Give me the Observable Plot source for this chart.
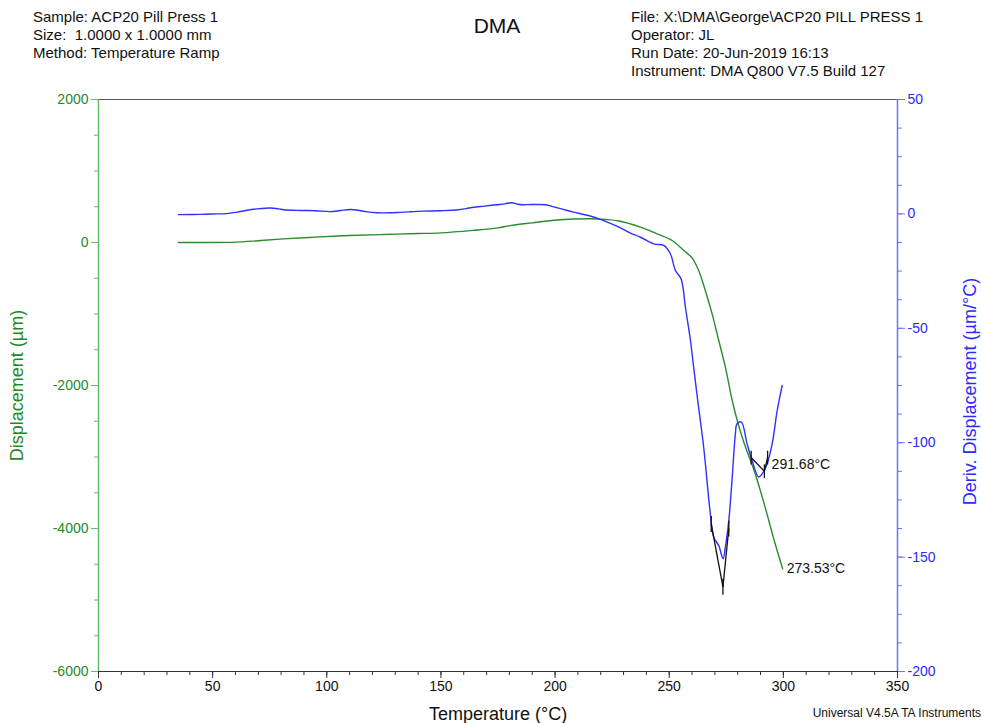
<!DOCTYPE html>
<html>
<head>
<meta charset="utf-8">
<script src="https://cdn.jsdelivr.net/npm/d3@7"></script>
<script src="https://cdn.jsdelivr.net/npm/@observablehq/plot@0.6"></script>
<style>
  html, body { margin: 0; padding: 0; background: #fff; }
  #wrap { position: relative; width: 982px; height: 723px; font-family: 'Liberation Sans', Arial, sans-serif; color: #111; }
  #wrap svg { position: absolute; left: 0; top: 0; }
  .hdr { position: absolute; font-size: 15px; line-height: 18px; white-space: nowrap; }
</style>
</head>
<body>
<div id="wrap">
  <div id="chart"></div>
  <div class="hdr" style="left:33px; top:8px;">Sample: ACP20 Pill Press 1<br>Size:&nbsp; 1.0000 x 1.0000 mm<br>Method: Temperature Ramp</div>
  <div class="hdr" style="left:497px; top:14px; font-size:21px; line-height:24px; transform: translateX(-50%);">DMA</div>
  <div class="hdr" style="left:631px; top:8px;">File: X:\DMA\George\ACP20 PILL PRESS 1<br>Operator: JL<br>Run Date: 20-Jun-2019 16:13<br>Instrument: DMA Q800 V7.5 Build 127</div>
  <div class="hdr" style="right:1px; top:704px; font-size:12px;">Universal V4.5A TA Instruments</div>
</div>
<script>
// ---- Data ----
// Displacement (µm) vs temperature (°C)
const dispTemp = [35, 45, 60, 70, 81, 95, 110, 125, 140, 150, 164, 175, 181, 190, 201, 208, 215, 222, 228, 237.4, 244.7, 251.3, 256.4, 260, 262.9, 265.8, 268.8, 271.7, 274.6, 277.6, 279.8, 282.9, 287.2, 291.6, 296, 299.7];
const dispVal  = [0, 0, 5, 25, 50, 75, 98, 112, 125, 135, 170, 205, 240, 275, 315, 328, 333, 322, 300, 214, 121, 28, -112, -215, -392, -671, -998, -1371, -1744, -2210, -2490, -2816, -3189, -3655, -4168, -4565];

// Derivative of displacement (µm/°C) vs temperature (°C)
const derivTemp = [35, 45, 52, 56, 60.7, 65, 69.5, 73, 76.8, 79, 81.2, 88.5, 95, 101.6, 106, 110.4, 113, 117, 122, 130.7, 136, 142.4, 150, 157.6, 161, 164.4, 169, 174.4, 178, 181, 184.4, 190, 196, 199, 202.8, 208, 214.6, 221.3, 228, 233, 237.4, 243.2, 247.6, 250.5, 252.7, 255.2, 257.1, 259.3, 260.7, 262.5, 265.1, 268, 269.5, 271.7, 273.6, 274.6, 276.1, 277.5, 279, 279.7, 281.6, 284.1, 286.3, 289.2, 290.7, 292.6, 295.1, 297.3, 299.5];
const derivVal  = [-0.3, -0.2, 0, 0.1, 0.8, 1.6, 2.2, 2.5, 2.5, 2.2, 1.8, 1.5, 1.4, 1.0, 1.5, 1.9, 1.7, 1.0, 0.5, 0.6, 0.9, 1.2, 1.4, 1.8, 2.3, 2.9, 3.4, 4.0, 4.4, 4.9, 4.1, 4.1, 4.0, 3.2, 2.2, 0.8, -0.7, -2.9, -5.8, -8.4, -10.2, -13.1, -13.8, -17.4, -24.7, -28.4, -40.8, -55.3, -67, -81.6, -102, -131, -141.3, -145, -150.7, -145.6, -134, -116.5, -96, -91.7, -91, -100.5, -107.8, -115, -113.6, -110, -100.5, -86, -75];

// Peak construction lines (deriv axis): left point, vertex, right point
const peakNames   = ["273.53°C", "291.68°C"];
const peakLeftT   = [268.4, 285.9];
const peakLeftD   = [-135.5, -106.5];
const peakVertexT = [273.53, 291.68];
const peakVertexD = [-163, -112.5];
const peakRightT  = [276.1, 293.1];
const peakRightD  = [-137.5, -106.5];
const peakTickHalf = [3.5, 3];

// Axis ticks
const xMajor = [0, 50, 100, 150, 200, 250, 300, 350];
const yLeftMajor = [-6000, -4000, -2000, 0, 2000];
const yRightMajor = [-200, -150, -100, -50, 0, 50];

// ---- Build ----
const leftDomain = [-6000, 2000];
const rightDomain = [-200, 50];
const toLeft = d => leftDomain[0] + (d - rightDomain[0]) * (leftDomain[1] - leftDomain[0]) / (rightDomain[1] - rightDomain[0]);
const fromLeft = v => rightDomain[0] + (v - leftDomain[0]) * (rightDomain[1] - rightDomain[0]) / (leftDomain[1] - leftDomain[0]);

const disp = dispTemp.map((t, i) => ({t, v: dispVal[i]}));
const deriv = derivTemp.map((t, i) => ({t, v: toLeft(derivVal[i])}));

const segs = [];
peakNames.forEach((n, i) => {
  const h = peakTickHalf[i];
  segs.push({x1: peakLeftT[i], y1: toLeft(peakLeftD[i]), x2: peakVertexT[i], y2: toLeft(peakVertexD[i])});
  segs.push({x1: peakVertexT[i], y1: toLeft(peakVertexD[i]), x2: peakRightT[i], y2: toLeft(peakRightD[i])});
  segs.push({x1: peakLeftT[i], y1: toLeft(peakLeftD[i] + h), x2: peakLeftT[i], y2: toLeft(peakLeftD[i] - h)});
  segs.push({x1: peakRightT[i], y1: toLeft(peakRightD[i] + h), x2: peakRightT[i], y2: toLeft(peakRightD[i] - h)});
  segs.push({x1: peakVertexT[i], y1: toLeft(peakVertexD[i] + h), x2: peakVertexT[i], y2: toLeft(peakVertexD[i] - h)});
});

const labels = [
  {t: dispTemp[dispTemp.length - 1], v: dispVal[dispVal.length - 1], text: peakNames[0]},
  {t: peakRightT[1], v: toLeft(peakVertexD[1] + 3), text: peakNames[1]}
];

const green = "#2a8c2a";
const greenAxis = "#66bb66";
const greenText = "#1f8a1f";
const blue = "#3030ff";
const blueAxis = "#7070ff";
const blueText = "#2b2bff";
const font = "'Liberation Sans', Arial, sans-serif";

const chart = Plot.plot({
  width: 982,
  height: 723,
  marginTop: 99,
  marginBottom: 52,
  marginLeft: 98,
  marginRight: 85,
  style: {fontFamily: font, fontSize: "14px", background: "transparent", overflow: "visible"},
  x: {domain: [0, 350]},
  y: {domain: leftDomain},
  marks: [
    // frame lines
    Plot.ruleY([2000], {stroke: "#555", strokeWidth: 1}),
    Plot.ruleY([-6000], {stroke: "#333", strokeWidth: 1}),
    Plot.ruleX([0], {stroke: greenAxis, strokeWidth: 1.5}),
    Plot.ruleX([350], {stroke: blueAxis, strokeWidth: 1.5}),
    // bottom axis
    Plot.axisX({ticks: d3.range(0, 351, 10), tickSize: 4, tickFormat: () => "", label: null, stroke: "#333"}),
    Plot.axisX({ticks: xMajor, tickSize: 7, tickPadding: 3, tickFormat: d => String(d), label: null, stroke: "#333", fill: "#111", fontSize: 14}),
    // left axis
    Plot.axisY({anchor: "left", ticks: d3.range(-6000, 2001, 500), tickSize: 4, tickFormat: () => "", label: null, stroke: greenAxis}),
    Plot.axisY({anchor: "left", ticks: yLeftMajor, tickSize: 7, tickPadding: 3, tickFormat: d => String(d), label: null, stroke: greenAxis, fill: greenText, fontSize: 14}),
    // right axis
    Plot.axisY({anchor: "right", ticks: d3.range(-200, 50.1, 12.5).map(toLeft), tickSize: 4, tickFormat: () => "", label: null, stroke: blueAxis}),
    Plot.axisY({anchor: "right", ticks: yRightMajor.map(toLeft), tickSize: 7, tickPadding: 3, tickFormat: v => String(Math.round(fromLeft(v))), label: null, stroke: blueAxis, fill: blueText, fontSize: 14}),
    // axis titles
    Plot.text(["Displacement (µm)"], {text: d => d, frameAnchor: "left", textAnchor: "middle", lineAnchor: "middle", dx: -81, rotate: -90, fill: greenText, fontSize: 18}),
    Plot.text(["Deriv. Displacement (µm/°C)"], {text: d => d, frameAnchor: "right", textAnchor: "middle", lineAnchor: "middle", dx: 73, dy: 6, rotate: -90, fill: blueText, fontSize: 18}),
    Plot.text(["Temperature (°C)"], {text: d => d, frameAnchor: "bottom", lineAnchor: "middle", dy: 43, fill: "#111", fontSize: 18}),
    // curves
    Plot.line(disp, {x: "t", y: "v", stroke: green, strokeWidth: 1.4, curve: "catmull-rom"}),
    Plot.line(deriv, {x: "t", y: "v", stroke: blue, strokeWidth: 1.4, curve: "catmull-rom"}),
    // peak construction
    Plot.link(segs, {x1: "x1", y1: "y1", x2: "x2", y2: "y2", stroke: "#111", strokeWidth: 1.3}),
    Plot.text(labels, {x: "t", y: "v", text: "text", textAnchor: "start", dx: 4, fill: "#111", fontSize: 14})
  ]
});
document.getElementById("chart").appendChild(chart);
</script>
</body>
</html>
